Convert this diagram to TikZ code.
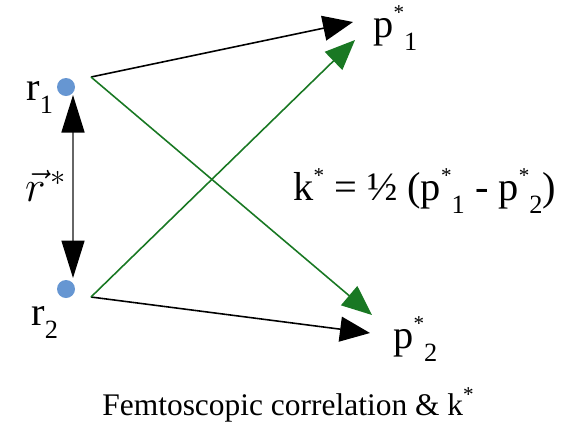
\documentclass[tikz,border=0pt]{standalone}
\usepackage{fontspec}
\setmainfont{Liberation Serif}
\usetikzlibrary{arrows.meta}
\newcommand{\lowsub}[1]{\raisebox{-0.75ex}{\fontsize{15}{15}\selectfont #1}}
\newcommand{\highstar}{\raisebox{0.95ex}{\fontsize{12}{12}\selectfont *}}
\definecolor{dotblue}{RGB}{102,150,210}
\definecolor{pairgreen}{RGB}{25,120,35}

\begin{document}
\begin{tikzpicture}[font=\fontsize{23}{26}\selectfont,
  >={Triangle[length=6mm,width=5mm]}]
\useasboundingbox (0,0) rectangle (11.3,-8.42);

\node[circle,fill=dotblue,minimum size=3.6mm,inner sep=0pt] (r1) at (1.32,-1.74) {};
\node[circle,fill=dotblue,minimum size=3.6mm,inner sep=0pt] (r2) at (1.32,-5.78) {};
\node[anchor=base west,inner sep=0pt] (r1lab) at (0.52,-2.0) {r\lowsub{1}};
\node[anchor=base west,inner sep=0pt] (r2lab) at (0.62,-6.5) {r\lowsub{2}};

\coordinate (s1) at (1.82,-1.54);
\coordinate (s2) at (1.82,-5.94);
\coordinate (a1) at (1.46,-1.90);
\coordinate (a2) at (1.46,-5.56);
\coordinate (t1b) at (7.06,-0.44);
\coordinate (t1g) at (7.10,-0.80);
\coordinate (t2g) at (7.44,-6.30);
\coordinate (t2b) at (7.40,-6.66);

\node[anchor=base west,inner sep=0pt] (p1) at (7.46,-0.74) {p\highstar\lowsub{1}};
\node[anchor=base west,inner sep=0pt] (p2) at (7.86,-6.96) {p\highstar\lowsub{2}};
\node[anchor=base west,inner sep=0pt] (kstar) at (5.86,-4.0)
  {k\highstar\ = ½ (p\highstar\lowsub{1} - p\highstar\lowsub{2})};

\draw[{Triangle[length=7.5mm,width=4.6mm,black]}-{Triangle[length=7.5mm,width=4.6mm,black]},
  draw=black!60,line width=0.9pt] (a1) -- (a2);
\node[font=\fontsize{27}{30}\selectfont] (rvec) at (0.92,-3.72) {$\vec{r}^{\,*}$};

\draw[->,line width=0.9pt] (s1) -- (t1b);
\draw[->,line width=0.9pt] (s2) -- (t2b);
\draw[->,pairgreen,line width=0.9pt] (s1) -- (t2g);
\draw[->,pairgreen,line width=0.9pt] (s2) -- (t1g);

\node[anchor=base west,inner sep=0pt,font=\fontsize{17.9}{21}\selectfont] (caption) at (2.04,-8.3)
  {Femtoscopic correlation \& k\highstar};
\end{tikzpicture}
\end{document}
